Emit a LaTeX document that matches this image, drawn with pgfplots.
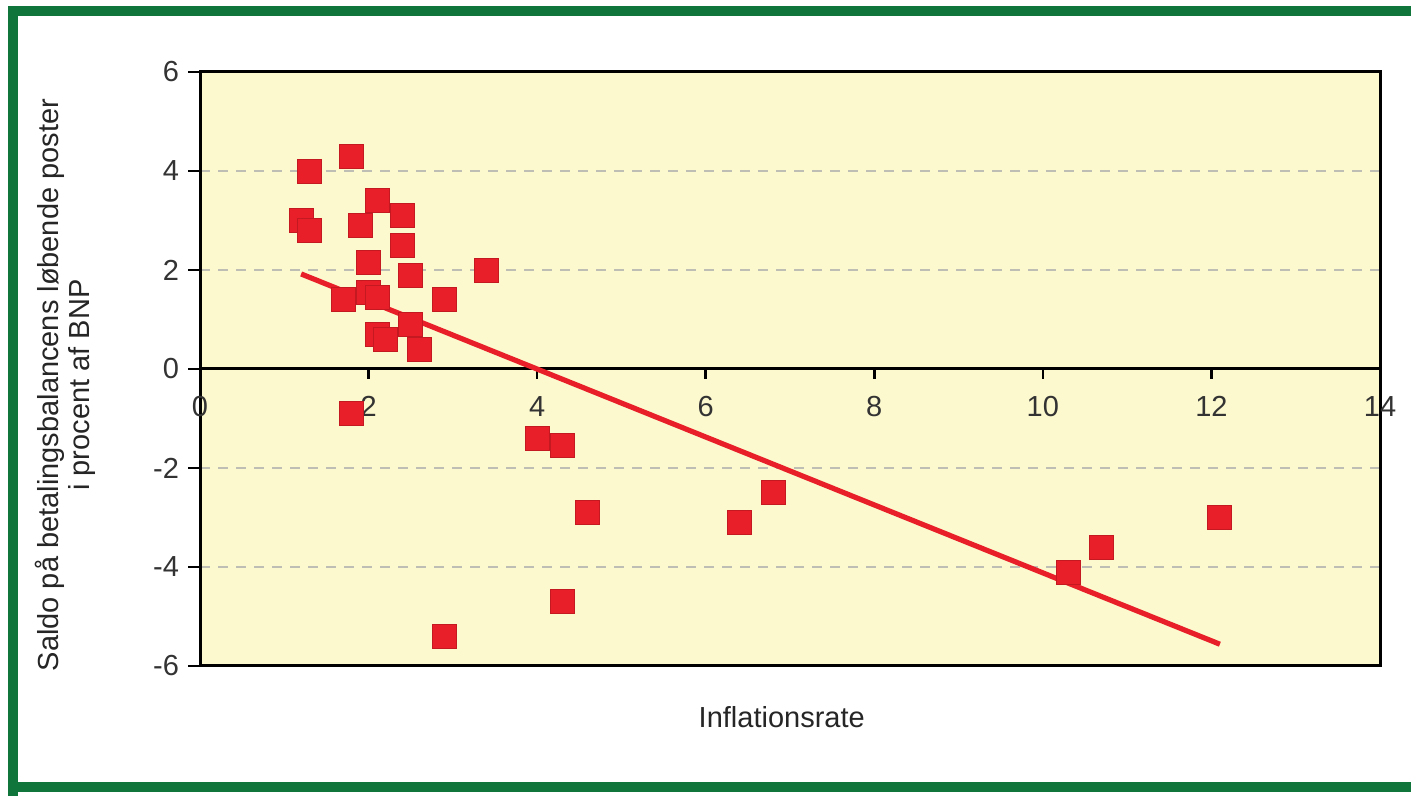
\documentclass[border=0pt]{standalone}
\usepackage{fontspec}
\setmainfont{Liberation Sans}
\usepackage{pgfplots}
\pgfplotsset{compat=1.18}
\definecolor{frameGreen}{RGB}{16,117,58}
\definecolor{plotBg}{RGB}{252,249,206}
\definecolor{ptRed}{RGB}{232,30,40}
\definecolor{gridGray}{RGB}{190,190,180}
\newcommand{\fs}{\fontsize{14.5}{15.5}\selectfont}
\begin{document}
\begin{tikzpicture}
\path[use as bounding box, fill=white] (0pt,0pt) rectangle (705.5pt,398pt);
% green frame
\draw[frameGreen, line width=5pt] (6.5pt,-5pt) -- (6.5pt,392.5pt) -- (720pt,392.5pt);
\draw[frameGreen, line width=5pt] (4pt,4.5pt) -- (720pt,4.5pt);
\begin{axis}[
  at={(100pt,65pt)}, anchor=south west,
  scale only axis, width=590pt, height=297pt,
  xmin=0, xmax=14, ymin=-6, ymax=6,
  xtick=\empty,
  ytick={-6,-4,...,6},
  ytick pos=left,
  tick align=outside,
  major tick length=6pt,
  ytick style={black, line width=1.3pt},
  axis line style={black, line width=1.5pt},
  axis background/.style={fill=plotBg},
  ymajorgrids,
  major grid style={gridGray, dashed, line width=0.8pt, dash pattern=on 5pt off 4pt},
  /pgf/number format/assume math mode=true,
  yticklabel style={font=\fs, text=black!80, xshift=-1pt},
  ylabel={Saldo på betalingsbalancens løbende poster\\i procent af BNP},
  ylabel style={font=\fs, text=black!85, align=center, at={(axis description cs:-0.114,0.473)}, anchor=center},
  xlabel={Inflationsrate},
  xlabel style={font=\fs, text=black!85, at={(axis description cs:0.493,-0.086)}, anchor=center},
]
\end{axis}
\begin{axis}[
  at={(100pt,65pt)}, anchor=south west,
  scale only axis, width=590pt, height=297pt,
  xmin=0, xmax=14, ymin=-6, ymax=6,
  axis x line=middle, axis y line=none,
  axis line style={-, black, line width=1.5pt},
  xtick={0,2,...,14},
  hide obscured x ticks=false,
  tick align=outside,
  major tick length=5pt,
  xtick style={black, line width=1.3pt},
  /pgf/number format/assume math mode=true,
  xticklabel style={font=\fs, text=black!80, yshift=-5pt},
  clip=false,
]
\addplot[only marks, mark=square*, mark size=6pt, mark options={fill=ptRed, draw=ptRed!85!black, line width=0.4pt}] coordinates {
(1.2,3.0) (1.3,4.0) (1.3,2.8) (1.8,4.3) (1.9,2.9) (2.1,3.4) (2.4,3.1) (2.4,2.5)
(2.0,2.15) (2.5,1.9) (3.4,2.0) (1.7,1.4) (2.0,1.55) (2.1,1.45) (2.9,1.4)
(2.5,0.9) (2.1,0.7) (2.2,0.6) (2.6,0.4) (1.8,-0.9) (4.0,-1.4) (4.3,-1.55)
(4.6,-2.9) (2.9,-5.4) (4.3,-4.7) (6.4,-3.1) (6.8,-2.5) (10.3,-4.1) (10.7,-3.6) (12.1,-3.0)
};
\addplot[ptRed, line width=2.6pt, no marks] coordinates {(1.2,1.92) (12.1,-5.56)};
\end{axis}
\end{tikzpicture}
\end{document}
